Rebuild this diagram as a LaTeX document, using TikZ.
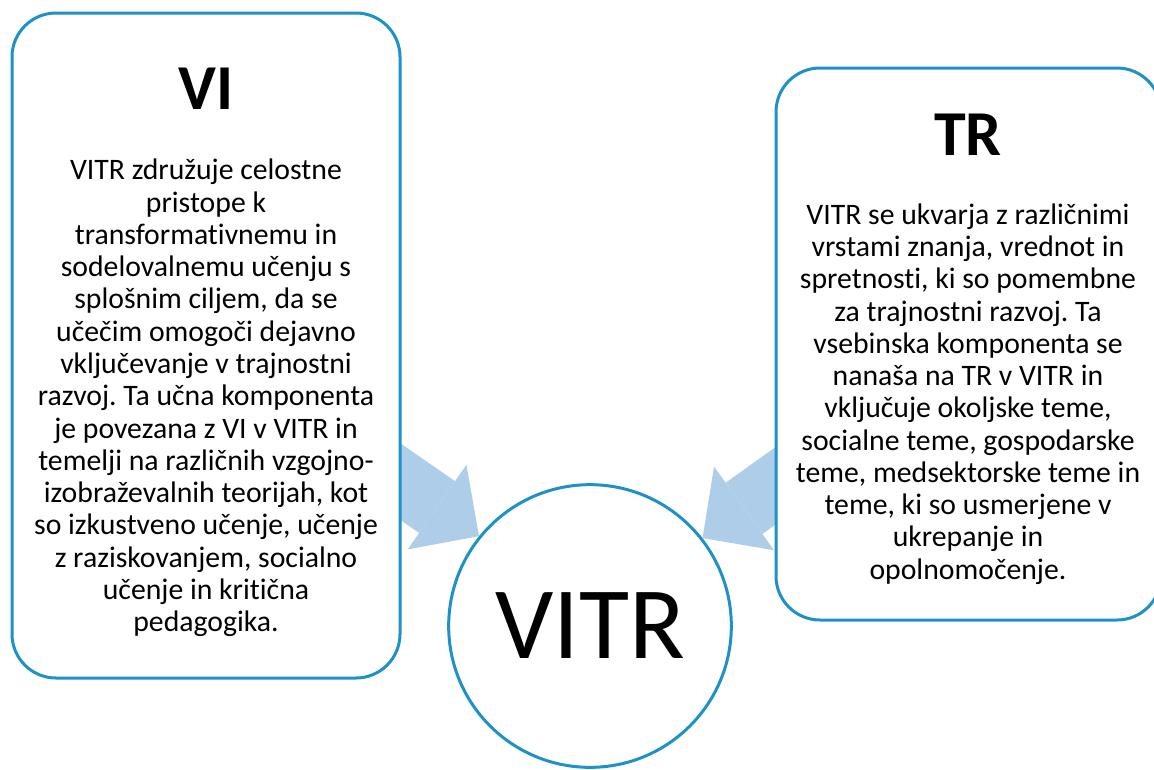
\documentclass[tikz,border=0pt]{standalone}
\usepackage{fontspec}
\setmainfont[Ligatures=NoCommon]{Carlito}
\usepackage{tikz}
\usetikzlibrary{arrows.meta}
\usetikzlibrary{backgrounds}
\definecolor{boxblue}{RGB}{30,145,198}
\definecolor{arrowblue}{RGB}{173,205,232}
\frenchspacing

\begin{document}
\begin{tikzpicture}[x=0.75pt,y=0.75pt,yscale=-1,xscale=1,
  box/.style={draw=boxblue, line width=2.25pt, fill=white, rounded corners=33pt},
  bigarrow/.style={draw=arrowblue, line width=47.25pt, -{Triangle[length=38.25pt, width=77.25pt, line width=0pt]}},
  headtext/.style={font=\fontsize{48}{58}\selectfont\bfseries, inner sep=0.75pt},
  bodytext/.style={font=\fontsize{22.3}{24.2}\selectfont, align=center, inner sep=0.75pt}]
\useasboundingbox (0,0) rectangle (1154,769);

%Shape: Rounded Rect
\node [box, minimum width=291pt, minimum height=498.75pt] (vi) at (206,345.5) {};
%Shape: Rounded Rect
\node [box, minimum width=288.75pt, minimum height=414pt] (tr) at (968.5,344) {};
%Shape: Circle
\node [circle, draw=boxblue, line width=2.25pt, fill=white, minimum size=212pt, inner sep=0pt, font=\fontsize{77}{90}\selectfont] (vitr) at (590,626) {VITR};

%Block Arrows
\coordinate (vitail) at (375,464);
\coordinate (trtail) at (806,464);
\begin{scope}[on background layer]
\draw [bigarrow] (vitail) -- (vitr.141.7);
\draw [bigarrow] (trtail) -- (vitr.38.3);
\end{scope}

% Text Node
\node [headtext, anchor=base] (vihead) at (206,109) {VI};
% Text Node
\node [bodytext] (vibody) at (206,398) {VITR združuje celostne\\ pristope k\\ transformativnemu in\\ sodelovalnemu učenju s\\ splošnim ciljem, da se\\ učečim omogoči dejavno\\ vključevanje v trajnostni\\ razvoj. Ta učna komponenta\\ je povezana z VI v VITR in\\ temelji na različnih vzgojno-\\ izobraževalnih teorijah, kot\\ so izkustveno učenje, učenje\\ z raziskovanjem, socialno\\ učenje in kritična\\ pedagogika.};
% Text Node
\node [headtext, anchor=base] (trhead) at (968,155) {TR};
% Text Node
\node [bodytext] (trbody) at (968,394) {VITR se ukvarja z različnimi\\ vrstami znanja, vrednot in\\ spretnosti, ki so pomembne\\ za trajnostni razvoj. Ta\\ vsebinska komponenta se\\ nanaša na TR v VITR in\\ vključuje okoljske teme,\\ socialne teme, gospodarske\\ teme, medsektorske teme in\\ teme, ki so usmerjene v\\ ukrepanje in\\ opolnomočenje.};

\end{tikzpicture}
\end{document}
